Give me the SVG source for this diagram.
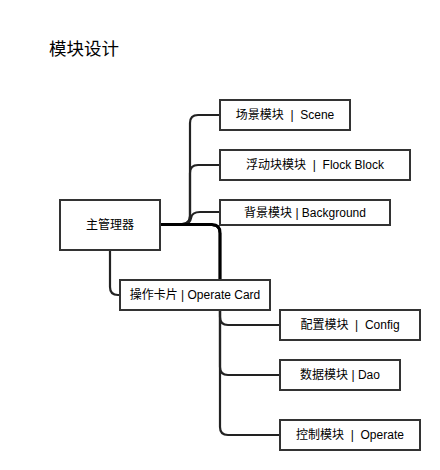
<svg xmlns="http://www.w3.org/2000/svg" width="440" height="470" viewBox="0 0 440 470">
<style>
.box{fill:#fff;stroke:#333;stroke-width:2}
.t{font-family:"Liberation Sans","Noto Sans CJK SC",sans-serif;font-size:12px;fill:#000;text-anchor:middle;dominant-baseline:central;white-space:pre}
.c{fill:none;stroke:#222;stroke-width:2.2;stroke-linejoin:round}
.ct{fill:none;stroke:#000;stroke-width:3;stroke-linejoin:round}
</style>
<rect width="440" height="470" fill="#fff"/>
<text x="49" y="55" style="font-family:'Noto Sans CJK SC',sans-serif;font-size:17.5px;fill:#000">模块设计</text>
<g id="connectors">
<path class="c" d="M160,224 L182,224 Q190,224 190,216 L190,123 Q190,115 198,115 L220,115"/>
<path class="c" d="M160,224 L182,224 Q190,224 190,216 L190,173 Q190,165 198,165 L220,165"/>
<path class="c" d="M160,224 L184,224 Q190,224 191,218 Q192,212 200,212 L220,212"/>
<path class="c" d="M160,225 L212,225 Q220,225 220,233 L220,317 Q220,325 228,325 L280,325"/>
<path class="c" d="M160,225 L212,225 Q220,225 220,233 L220,367 Q220,375 228,375 L280,375"/>
<path class="c" d="M160,225 L212,225 Q220,225 220,233 L220,427 Q220,435 228,435 L280,435"/>
<path class="ct" d="M160,224.5 L212,224.5 Q220,224.5 220,233 L220,280"/>
<path class="c" d="M110,250 L110,287 Q110,295 118,295 L120,295"/>
</g>
<g id="main"><rect class="box" x="60" y="200" width="100" height="50"/><text class="t" x="110" y="225">主管理器</text></g>
<g id="scene"><rect class="box" x="220" y="100" width="130" height="30"/><text class="t" x="285" y="115">场景模块  |  Scene</text></g>
<g id="flock"><rect class="box" x="220" y="150" width="190" height="30"/><text class="t" x="315" y="165">浮动块模块  |  Flock Block</text></g>
<g id="background"><rect class="box" x="220" y="200" width="170" height="25"/><text class="t" x="305" y="212.5">背景模块 | Background</text></g>
<g id="card"><rect class="box" x="120" y="280" width="150" height="30"/><text class="t" x="195" y="295">操作卡片 | Operate Card</text></g>
<g id="config"><rect class="box" x="280" y="310" width="140" height="30"/><text class="t" x="350" y="325">配置模块  |  Config</text></g>
<g id="dao"><rect class="box" x="280" y="360" width="120" height="30"/><text class="t" x="340" y="375">数据模块 | Dao</text></g>
<g id="operate"><rect class="box" x="280" y="420" width="140" height="30"/><text class="t" x="350" y="435">控制模块  |  Operate</text></g>
</svg>
